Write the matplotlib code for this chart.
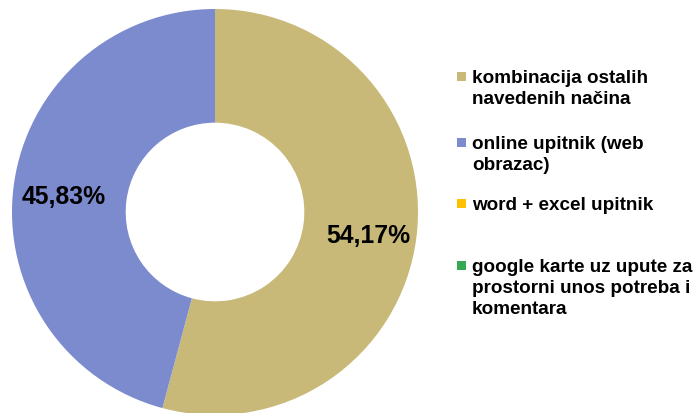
import matplotlib
matplotlib.use("Agg")
import matplotlib.pyplot as plt
from matplotlib.patches import Rectangle

categories = [
    "kombinacija ostalih\nnavedenih načina",
    "online upitnik (web\nobrazac)",
    "word + excel upitnik",
    "google karte uz upute za\nprostorni unos potreba i\nkomentara",
]
values = [54.17, 45.83, 0.0, 0.0]
labels = ["54,17%", "45,83%", "", ""]
colors = ["#C9B979", "#7B8BCE", "#FFC000", "#34A853"]

plt.rcParams["font.family"] = ["Liberation Sans", "DejaVu Sans"]

W, H = 697, 414
fig = plt.figure(figsize=(W / 100, H / 100), dpi=100)

# donut: center (215, 213) px, radius 203 px
cx, cy, r = 215, 213, 203
ax = fig.add_axes([(cx - r) / W, (H - cy - r) / H, 2 * r / W, 2 * r / H])
ax.pie(
    values[:2],
    colors=colors[:2],
    startangle=90,
    counterclock=False,
    radius=1.0,
    wedgeprops=dict(width=0.56, edgecolor="none"),
)
ax.set_xlim(-1, 1)
ax.set_ylim(-1, 1)
ax.set_aspect("equal")
ax.axis("off")

# data labels
ax.text(0.754, -0.111, labels[0], ha="center", va="center", fontsize=17.8,
        fontweight="bold", color="black")
ax.text(-0.746, 0.081, labels[1], ha="center", va="center", fontsize=17.8,
        fontweight="bold", color="black")

# legend (first-line baselines in px from top, 21 px per line)
baselines = [83, 149, 210, 272]
for name, color, base in zip(categories, colors, baselines):
    fig.patches.append(Rectangle((457 / W, (H - base + 1) / H), 9 / W, 9 / H,
                                 transform=fig.transFigure, facecolor=color,
                                 edgecolor="none"))
    for i, line in enumerate(name.split("\n")):
        fig.text(472 / W, (H - base - 21 * i) / H, line, ha="left",
                 va="baseline", fontsize=13.6, fontweight="bold",
                 color="black")

fig.savefig("out.png", dpi=100)
